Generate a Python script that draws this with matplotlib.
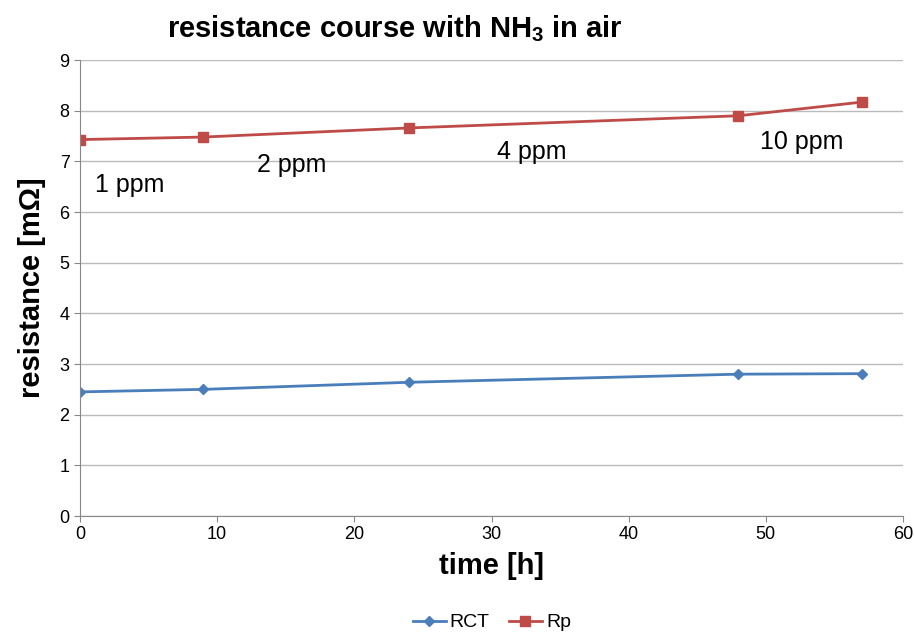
import matplotlib.pyplot as plt

plt.rcParams['font.family'] = ['Liberation Sans', 'DejaVu Sans']
plt.rcParams['mathtext.default'] = 'regular'

# data
time_h = [0, 9, 24, 48, 57]
rct = [2.45, 2.50, 2.64, 2.80, 2.81]
rp = [7.43, 7.48, 7.66, 7.90, 8.17]

labels = ['1 ppm', '2 ppm', '4 ppm', '10 ppm']
label_x = [1.1, 12.9, 30.4, 49.6]
label_y = [6.53, 6.93, 7.18, 7.38]

fig = plt.figure(figsize=(9.14, 6.32), dpi=100)
ax = fig.add_axes([0.0875, 0.1835, 0.9005, 0.7215])

ax.plot(time_h, rct, color='#4A7EBB', marker='D', markersize=5, linewidth=2, label='RCT')
ax.plot(time_h, rp, color='#BE4B48', marker='s', markersize=7, linewidth=2, label='Rp')

for txt, x, y in zip(labels, label_x, label_y):
    ax.text(x, y, txt, fontsize=18, ha='left', va='center')

ax.set_xlim(0, 60)
ax.set_ylim(0, 9)
ax.set_xticks(range(0, 61, 10))
ax.set_yticks(range(0, 10))
ax.tick_params(labelsize=13, length=4, color='#888888')
ax.grid(axis='y', color='#BBBBBB', linewidth=1)
ax.set_axisbelow(True)
for s in ['top', 'right']:
    ax.spines[s].set_visible(False)
for s in ['left', 'bottom']:
    ax.spines[s].set_color('#888888')

ax.set_xlabel('time [h]', fontsize=21, fontweight='bold', labelpad=6)
ax.set_ylabel('resistance [mΩ]', fontsize=21, fontweight='bold', labelpad=10)
fig.text(0.432, 0.955, 'resistance course with NH$_3$ in air', fontsize=21,
         fontweight='bold', ha='center', va='center')

fig.legend(loc='center', ncol=2, frameon=False, fontsize=14,
           bbox_to_anchor=(0.538, 0.015), handlelength=1.7, handletextpad=0.2,
           columnspacing=1.0)

fig.savefig('out.png', dpi=100)
